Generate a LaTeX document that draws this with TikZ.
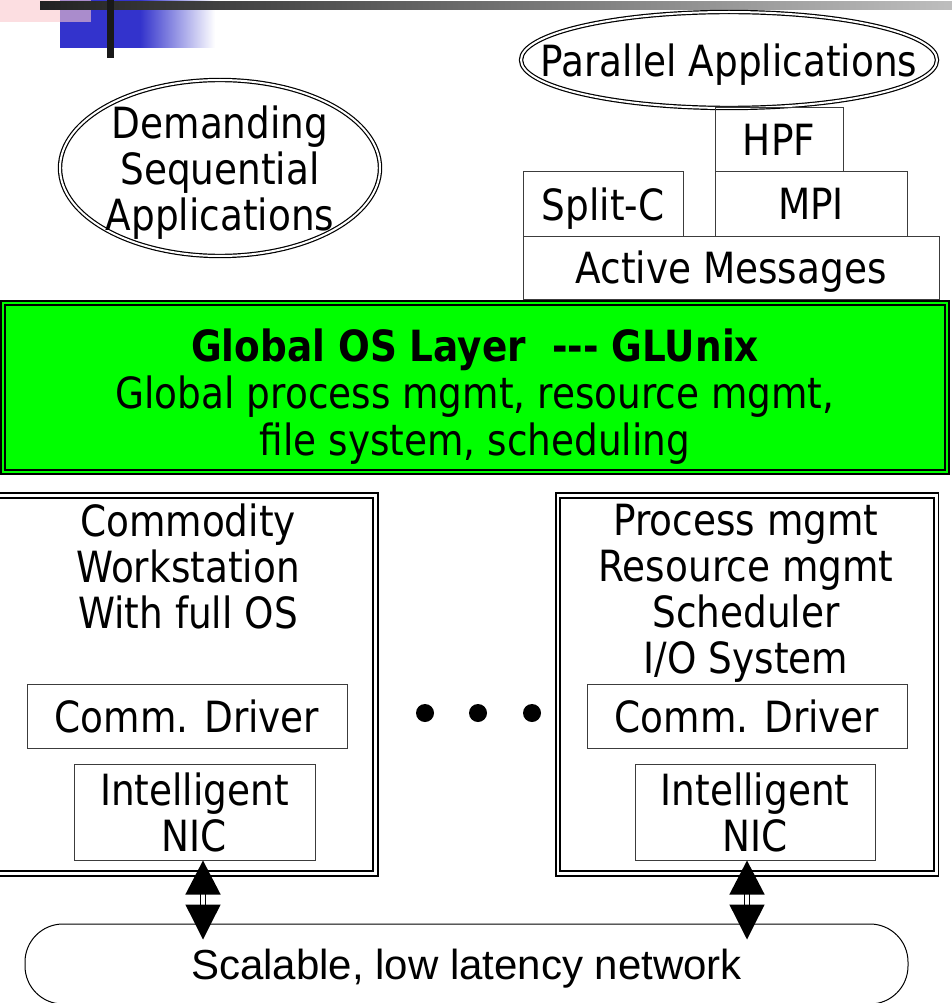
\documentclass[tikz,border=0pt]{standalone}
\usepackage{fontspec}
\setmainfont{DejaVu Sans}[FakeStretch=0.87]
\newfontfamily\netfont{Liberation Sans}
\usetikzlibrary{shapes.geometric, arrows.meta, positioning}

\definecolor{tplblue}{RGB}{51,51,204}
\definecolor{tplpink}{RGB}{250,200,205}
\definecolor{bardark}{RGB}{34,34,34}
\definecolor{barmid}{RGB}{80,80,80}
\definecolor{barlight}{RGB}{190,190,190}
\definecolor{layergreen}{RGB}{0,255,0}
\definecolor{boxline}{RGB}{60,60,60}

\begin{document}
\begin{tikzpicture}[
    x=1pt, y=-1pt,
    bigfont/.style={font=\fontsize{43}{46}\selectfont},
    box/.style={
        rectangle,
        draw=boxline,
        line width=1pt,
        inner sep=0pt,
        align=center,
        text depth=0pt,
        bigfont
    },
    appl/.style={
        ellipse,
        draw=black,
        line width=1.2pt,
        double=white,
        double distance=2pt,
        inner sep=0pt
    },
    appltext/.style={bigfont, align=center, text depth=0pt, inner sep=0pt},
    host/.style={
        rectangle,
        draw=black,
        line width=1.8pt,
        double=white,
        double distance=2.5pt,
        inner sep=0pt,
        minimum width=378.5pt,
        minimum height=378pt
    },
    hosttext/.style={bigfont, align=center, anchor=north, inner sep=0pt},
    layer/.style={
        rectangle,
        draw=black,
        line width=1.8pt,
        double=layergreen,
        double distance=2pt,
        fill=layergreen,
        inner sep=0pt,
        minimum width=944.4pt,
        minimum height=169.2pt
    },
    layertext/.style={font=\fontsize{43}{47}\selectfont, align=center, text depth=0pt, inner sep=0pt, yshift=-5pt},
    netbox/.style={
        rectangle,
        draw=black,
        line width=1pt,
        rounded corners=38pt,
        minimum width=883pt,
        minimum height=80pt,
        text depth=0pt,
        font=\netfont\fontsize{42}{46}\selectfont
    },
    netlink/.style={
        draw=black,
        line width=1.3pt,
        double=white,
        double distance=4pt,
        {Triangle[length=34pt, width=35pt]}-{Triangle[length=35pt, width=35pt]}
    },
    dotmark/.style={circle, fill=black, inner sep=0pt, minimum size=18pt}
]

\useasboundingbox (0,0) rectangle (952,1003);

% Slide template corner
\fill[tplblue] (60,0) rectangle (140,48);
\shade[left color=tplblue, right color=white] (140,0) rectangle (215,48);
\fill[tplpink, fill opacity=0.6] (0,0) rectangle (91,22);
\shade[left color=bardark, middle color=barmid, right color=barlight] (40,2) rectangle (952,10);
\fill[black!90] (107,0) rectangle (114,58);

% Applications
\node[appl, minimum width=320pt, minimum height=176pt,
      label={[appltext]center:{Demanding\\Sequential\\Applications}}] (seqapp) at (220,168) {};
\node[appl, minimum width=416pt, minimum height=96pt,
      label={[appltext]center:{Parallel Applications}}] (parapp) at (729,60) {};

% Programming layers
\node[box, minimum width=128pt, minimum height=64pt] (hpf) at (779,140) {HPF};
\node[box, minimum width=192pt, minimum height=64pt] (mpi) at (811,204) {MPI};
\node[box, minimum width=160pt, minimum height=64pt] (splitc) at (603,204) {Split-C};
\node[box, minimum width=416pt, minimum height=63pt] (am) at (731,267.5) {Active Messages};

% Global OS layer
\node[layer, label={[layertext]center:{\textbf{Global OS Layer\ \ -{}-{}- GLUnix}\\Global process mgmt, resource mgmt,\\file system, scheduling}}] (glunix) at (475,387.4) {};

% Workstations
\node[host] (wsL) at (186.25,684.5) {};
\node[hosttext] (wsLtext) at (188,503.3) {Commodity\\Workstation\\With full OS};
\node[box, minimum width=320pt, minimum height=64pt] (drvL) at (187,716) {Comm. Driver};
\node[box, minimum width=241pt, minimum height=96pt] (nicL) at (194.5,812) {Intelligent\\NIC};

\node[host] (wsR) at (747,684.5) {};
\node[hosttext] (wsRtext) at (746,503.7) {Process mgmt\\Resource mgmt\\Scheduler\\I/O System};
\node[box, minimum width=320pt, minimum height=64pt] (drvR) at (747,716) {Comm. Driver};
\node[box, minimum width=240pt, minimum height=96pt] (nicR) at (755,812) {Intelligent\\NIC};

\foreach \i/\x in {1/425,2/478,3/532}
    \node[dotmark] (dot\i) at (\x,713) {};

% Network
\node[netbox] (net) at (466.5,964) {Scalable, low latency network};

\draw[netlink] ([xshift=8.5pt]nicL.south) -- ([xshift=8.5pt, yshift=-16pt]nicL.south |- net.north);
\draw[netlink] ([xshift=-8pt]nicR.south) -- ([xshift=-8pt, yshift=-16pt]nicR.south |- net.north);

\end{tikzpicture}
\end{document}
